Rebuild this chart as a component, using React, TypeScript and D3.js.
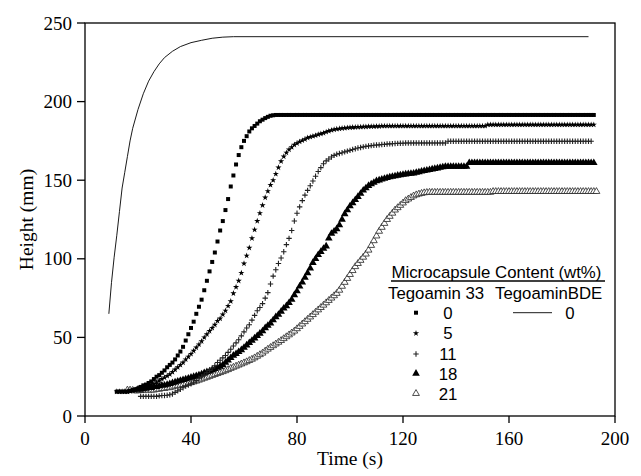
import React from "react";
import * as d3 from "d3";

// ---------- data ----------
const xTicks = [0, 40, 80, 120, 160, 200];
const yTicks = [0, 50, 100, 150, 200, 250];

// Tegoamin BDE 0 wt% (solid line)
const bdeTime = [9, 10, 11, 12, 13, 14, 15, 16, 17, 18, 20, 22, 24, 26, 28, 30, 33, 36, 40, 44, 48, 52, 56, 190];
const bdeHeight = [65, 85, 101, 115, 130, 145, 155, 165, 175, 183, 195, 205, 213, 219, 224, 228, 232, 235, 237.5, 239, 240.3, 241, 241.3, 241.3];

// Tegoamin 33 series: sampled every second from a start time
const s0Start = 12;
const s0Height = [
  15.5, 15.5, 15.5, 15.5, 15.5, 16, 16.5, 17, 17.5, 18.5,
  19.5, 20, 21, 22, 23.5, 25, 26, 27.5, 29, 31,
  32.5, 34, 36, 38.5, 41, 44, 48, 52, 56, 60,
  65, 69.5, 74, 80, 86, 92, 98, 104, 111, 118,
  124, 131, 138, 146, 153, 160, 166, 171, 175, 178,
  181, 183, 184.5, 186, 187.5, 188.5, 189.5, 190.3, 191, 191.3,
  191.5, 191.5, 191.5, 191.5, 191.5, 191.5, 191.5, 191.5, 191.5, 191.5,
  191.5, 191.5, 191.5, 191.5, 191.5, 191.5, 191.5, 191.5, 191.5, 191.5,
  191.5, 191.5, 191.5, 191.5, 191.5, 191.5, 191.5, 191.5, 191.5, 191.5,
  191.5, 191.5, 191.5, 191.5, 191.5, 191.5, 191.5, 191.5, 191.5, 191.5,
  191.5, 191.5, 191.5, 191.5, 191.5, 191.5, 191.5, 191.5, 191.5, 191.5,
  191.5, 191.5, 191.5, 191.5, 191.5, 191.5, 191.5, 191.5, 191.5, 191.5,
  191.5, 191.5, 191.5, 191.5, 191.5, 191.5, 191.5, 191.5, 191.5, 191.5,
  191.5, 191.5, 191.5, 191.5, 191.5, 191.5, 191.5, 191.5, 191.5, 191.5,
  191.5, 191.5, 191.5, 191.5, 191.5, 191.5, 191.5, 191.5, 191.5, 191.5,
  191.5, 191.5, 191.5, 191.5, 191.5, 191.5, 191.5, 191.5, 191.5, 191.5,
  191.5, 191.5, 191.5, 191.5, 191.5, 191.5, 191.5, 191.5, 191.5, 191.5,
  191.5, 191.5, 191.5, 191.5, 191.5, 191.5, 191.5, 191.5, 191.5, 191.5,
  191.5,
];

const s5Start = 12;
const s5Height = [
  15.5, 15.5, 15.5, 15.5, 15.5, 15.8, 16, 16.3, 16.7, 17,
  17.5, 18, 19, 20, 20.5, 21.5, 22.5, 23.5, 24.5, 25.5,
  26.5, 28, 29.5, 31, 32.5, 34, 36, 37.7, 39.5, 41.5,
  43.5, 45.5, 47.5, 50, 52, 54, 56, 58, 60.5, 62,
  64.5, 67, 70, 73, 78, 82, 86, 91, 97, 102,
  107, 113, 118.5, 124, 129, 134, 139, 143, 147, 150,
  154, 158, 162, 165, 167.5, 169.5, 171, 172.5, 173.5, 174.5,
  175.3, 176, 177, 177.5, 178, 178.5, 179, 179.5, 180, 180.7,
  181.3, 181.8, 182.2, 182.5, 182.8, 183, 183.2, 183.4, 183.5, 183.6,
  183.7, 183.8, 183.9, 184, 184, 184.1, 184.2, 184.2, 184.3, 184.3,
  184.5, 184.5, 184.5, 184.5, 184.5, 184.5, 184.5, 184.5, 184.5, 184.5,
  184.5, 184.5, 184.5, 184.5, 184.5, 184.5, 184.5, 184.5, 184.5, 184.5,
  184.5, 184.5, 184.5, 184.5, 184.5, 184.5, 184.5, 184.5, 184.5, 184.5,
  184.5, 184.5, 184.5, 184.5, 184.5, 184.5, 184.5, 184.5, 184.5, 184.5,
  185.3, 185.3, 185.3, 185.3, 185.3, 185.3, 185.3, 185.3, 185.3, 185.3,
  185.3, 185.3, 185.3, 185.3, 185.3, 185.3, 185.3, 185.3, 185.3, 185.3,
  185.3, 185.3, 185.3, 185.3, 185.3, 185.3, 185.3, 185.3, 185.3, 185.3,
  185.3, 185.3, 185.3, 185.3, 185.3, 185.3, 185.3, 185.3, 185.3, 185.3,
  185.3,
];

const s11Start = 21;
const s11Height = [
  12.5, 12.5, 12.5, 12.5, 12.5, 12.5, 12.5, 12.8, 13, 13,
  13.2, 13.5, 14, 15, 16, 17, 18, 19, 19.7, 20.5,
  21.5, 22.5, 24, 25, 26, 27.5, 29, 30.5, 32, 34,
  35.5, 37, 38.5, 40.5, 42.5, 44.5, 46.5, 48.5, 51, 53.5,
  56, 58, 61, 64, 67, 69, 71.5, 75, 78.5, 84,
  89, 93, 97, 100.5, 104.5, 109, 113, 118, 124, 129,
  133, 137, 140.5, 143.5, 146.5, 149.5, 152.5, 155.5, 158, 160.5,
  162.3, 163.5, 164.8, 165.8, 166.5, 167, 167.5, 168, 168.5, 169,
  169.5, 170, 170.5, 170.8, 171.2, 171.5, 171.8, 172, 172.2, 172.4,
  172.5, 172.7, 172.8, 173, 173.1, 173.2, 173.3, 173.4, 173.5, 173.5,
  173.7, 173.7, 173.7, 173.7, 173.7, 173.7, 173.7, 173.7, 173.7, 173.7,
  173.7, 173.7, 173.7, 173.7, 173.7, 173.7,
  174.8, 174.8, 174.8, 174.8, 174.8, 174.8, 174.8, 174.8, 174.8, 174.8,
  174.8, 174.8, 174.8, 174.8, 174.8, 174.8, 174.8, 174.8, 174.8, 174.8,
  174.8, 174.8, 174.8, 174.8, 174.8, 174.8, 174.8, 174.8, 174.8, 174.8,
  174.8, 174.8, 174.8, 174.8, 174.8, 174.8, 174.8, 174.8, 174.8, 174.8,
  174.8, 174.8, 174.8, 174.8, 174.8, 174.8, 174.8, 174.8, 174.8, 174.8,
  174.8, 174.8, 174.8, 174.8, 174.8,
];

const s18Start = 20;
const s18Height = [
  17, 17, 17.5, 17.5, 18, 18, 18.5, 18.5, 19, 19.5,
  19.5, 20, 20.5, 21, 21.5, 22, 22.5, 23, 23.5, 24,
  24.5, 25, 25.5, 26, 26.7, 27.4, 28, 28.5, 29.2, 30,
  30.8, 31.5, 32.5, 34, 35.5, 37, 38.5, 39.5, 40.8, 42,
  43.5, 45, 46.5, 48, 49.5, 51, 52.5, 54, 56, 57.5,
  59, 61, 63, 64.5, 66.5, 68.5, 70, 72, 74, 77,
  79.5, 82.5, 85, 88, 91, 94, 97.5, 100, 102.5, 104.5,
  106.5, 108, 113, 116, 117.5, 119, 121.5, 125, 128.5, 131,
  133.5, 135.5, 137.5, 139.5, 141.5, 143.5, 145, 146.5, 147.5, 148.5,
  149.5, 150, 150.5, 151, 151.5, 152, 152.3, 152.6, 153, 153.3,
  153.6, 153.8, 154, 154.2, 154.4, 154.8, 155.2, 155.6, 156, 156.3,
  156.6, 157, 157.3, 157.6, 158, 158.3, 158.6, 158.6, 158.6, 158.6,
  158.6, 158.6, 158.6, 158.6, 158.6,
  161, 161, 161, 161, 161, 161, 161, 161, 161, 161,
  161, 161, 161, 161, 161, 161, 161, 161, 161, 161,
  161, 161, 161, 161, 161, 161, 161, 161, 161, 161,
  161, 161, 161, 161, 161, 161, 161, 161, 161, 161,
  161, 161, 161, 161, 161, 161, 161, 161,
];

const s21Start = 16;
const s21Height = [
  16.5, 16.5, 16.3, 16, 16, 16.2, 16.5, 16.5, 16.5, 16.5,
  16.5, 17, 17, 17.5, 17.5, 18, 18, 18.5, 19, 19.3,
  19.6, 20, 20.4, 20.8, 21.2, 21.7, 22.2, 22.8, 23.4, 24,
  24.6, 25.2, 25.8, 26.4, 27, 27.6, 28.2, 28.8, 29.5, 30.3,
  31, 31.7, 32.4, 33.1, 33.8, 34.5, 35.3, 36.1, 37, 38,
  39, 40, 41.3, 42.5, 43.6, 44.7, 45.8, 46.9, 48, 49.2,
  50.4, 51.6, 52.8, 54, 55.5, 57, 58.5, 60, 61.5, 63,
  64.5, 66, 67.5, 69, 70.5, 72, 73.5, 75, 76.5, 78,
  80, 82.5, 85, 87.5, 90, 92.5, 95, 97, 99, 101,
  103, 105.5, 108.5, 111.5, 114.5, 117.5, 120, 122.5, 125, 127,
  129, 131, 132.5, 134, 135.5, 137, 138, 139, 140, 140.7,
  141.2, 141.6, 142, 142.2, 142.3,
  142.3, 142.3, 142.3, 142.3, 142.3, 142.3, 142.3, 142.3, 142.3, 142.3,
  142.3, 142.3, 142.3, 142.3, 142.3, 142.3, 142.3, 142.3, 142.3, 142.3,
  142.3, 142.3, 142.3,
  142.8, 142.8, 142.8, 142.8, 142.8, 142.8, 142.8, 142.8, 142.8, 142.8,
  142.8, 142.8, 142.8, 142.8, 142.8, 142.8, 142.8, 142.8, 142.8, 142.8,
  142.8, 142.8, 142.8, 142.8, 142.8, 142.8, 142.8, 142.8, 142.8, 142.8,
  142.8, 142.8, 142.8, 142.8, 142.8, 142.8, 142.8, 142.8, 142.8, 142.8,
];

const legendTitle = "Microcapsule Content (wt%)";
const legendGroupA = "Tegoamin 33";
const legendGroupB = "TegoaminBDE";
const legendLabelsA = ["0", "5", "11", "18", "21"];
const legendLabelB = "0";

// ---------- layout ----------
const W = 641;
const H = 476;
const x = d3.scaleLinear().domain([0, 200]).range([85, 615]);
const y = d3.scaleLinear().domain([0, 250]).range([416, 23]);

const serif = "'Liberation Serif', 'Times New Roman', serif";
const sans = "'Liberation Sans', Arial, Helvetica, sans-serif";
const legendFont = 16.8;

const sq = d3.symbol().type(d3.symbolSquare).size(16)() as string;
const star = d3.symbol().type(d3.symbolStar).size(12)() as string;
const tri = d3.symbol().type(d3.symbolTriangle).size(25)() as string;
const otri = d3.symbol().type(d3.symbolTriangle).size(20)() as string;
const plus = "M-2.7,0H2.7M0,-2.7V2.7";

function pts(start: number, hs: number[]) {
  return hs.map((h, i) => ({ t: start + i, h }));
}

function MarkerShape({ kind, cx, cy }: { kind: string; cx: number; cy: number }) {
  const tr = `translate(${cx},${cy})`;
  if (kind === "square") return <path d={sq} transform={tr} fill="#000" />;
  if (kind === "star") return <path d={star} transform={tr} fill="#000" />;
  if (kind === "plus") return <path d={plus} transform={tr} fill="none" stroke="#222" strokeWidth={1.1} />;
  if (kind === "tri") return <path d={tri} transform={tr} fill="#000" />;
  return <path d={otri} transform={tr} fill="#fff" stroke="#222" strokeWidth={0.8} />;
}

const seriesList = [
  { kind: "square", data: pts(s0Start, s0Height) },
  { kind: "star", data: pts(s5Start, s5Height) },
  { kind: "plus", data: pts(s11Start, s11Height) },
  { kind: "tri", data: pts(s18Start, s18Height) },
  { kind: "otri", data: pts(s21Start, s21Height) },
];

export default function App() {
  const bdeLine = d3
    .line<number>()
    .x((_, i) => x(bdeTime[i]))
    .y((d) => y(d))(bdeHeight) as string;

  const legendRowsY = [312.7, 333.3, 354, 373.5, 393.5];
  const legendKinds = ["square", "star", "plus", "tri", "otri"];

  return (
    <div style={{ position: "absolute", left: 0, top: 0 }}>
      <svg width={W} height={H} viewBox={`0 0 ${W} ${H}`} style={{ display: "block", background: "#fff" }}>
        <rect x={0} y={0} width={W} height={H} fill="#fff" />

        {seriesList
          .slice()
          .reverse()
          .map((s) => (
            <g key={s.kind}>
              {s.data.map((p, i) => (
                <MarkerShape key={i} kind={s.kind} cx={x(p.t)} cy={y(p.h)} />
              ))}
            </g>
          ))}

        <path d={bdeLine} fill="none" stroke="#000" strokeWidth={0.9} />

        {/* frame */}
        <rect x={x(0)} y={y(250)} width={x(200) - x(0)} height={y(0) - y(250)} fill="none" stroke="#000" strokeWidth={1.3} />

        {/* x axis ticks */}
        {xTicks.map((t) => (
          <g key={"x" + t}>
            <line x1={x(t)} x2={x(t)} y1={y(0)} y2={y(0) + 7} stroke="#000" strokeWidth={1.3} />
            <text x={x(t)} y={445} textAnchor="middle" fontFamily={serif} fontSize={19} fill="#000">
              {t}
            </text>
          </g>
        ))}
        {/* y axis ticks */}
        {yTicks.map((t) => (
          <g key={"y" + t}>
            <line x1={x(0) - 8} x2={x(0)} y1={y(t)} y2={y(t)} stroke="#000" strokeWidth={1.3} />
            <text x={72} y={y(t) + 6.5} textAnchor="end" fontFamily={serif} fontSize={19} fill="#000">
              {t}
            </text>
          </g>
        ))}

        <text x={350} y={464.5} textAnchor="middle" fontFamily={serif} fontSize={19.5} fill="#000">
          Time (s)
        </text>
        <text
          transform={`translate(33,${(y(0) + y(250)) / 2}) rotate(-90)`}
          textAnchor="middle"
          fontFamily={serif}
          fontSize={19.5}
          fill="#000"
        >
          Height (mm)
        </text>

        {/* legend */}
        <text x={391.5} y={277.5} fontFamily={sans} fontSize={legendFont} fill="#000">
          {legendTitle}
        </text>
        <line x1={391} x2={605} y1={281} y2={281} stroke="#000" strokeWidth={1.3} />
        <text x={388} y={299} fontFamily={sans} fontSize={legendFont} fill="#000">
          {legendGroupA}
        </text>
        <text x={495} y={299} fontFamily={sans} fontSize={legendFont} fill="#000">
          {legendGroupB}
        </text>
        {legendLabelsA.map((lab, i) => (
          <g key={"lg" + i}>
            <MarkerShape kind={legendKinds[i]} cx={416} cy={legendRowsY[i]} />
            <text x={448} y={legendRowsY[i] + 6} textAnchor="middle" fontFamily={sans} fontSize={legendFont} fill="#000">
              {lab}
            </text>
          </g>
        ))}
        <line x1={513} x2={552} y1={legendRowsY[0]} y2={legendRowsY[0]} stroke="#000" strokeWidth={0.9} />
        <text x={570} y={legendRowsY[0] + 6} textAnchor="middle" fontFamily={sans} fontSize={legendFont} fill="#000">
          {legendLabelB}
        </text>
      </svg>
    </div>
  );
}
